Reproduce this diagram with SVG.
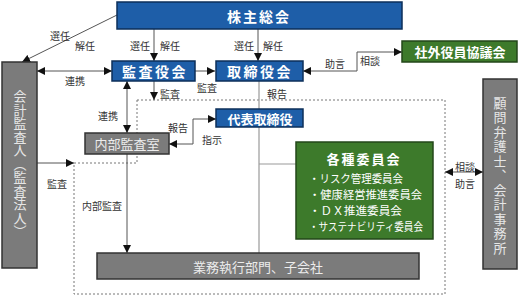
<svg xmlns="http://www.w3.org/2000/svg" width="519" height="295" viewBox="0 0 519 295">
<style>
text{font-family:"Noto Sans CJK JP","Noto Sans",sans-serif}
.blue{fill:#1e5ea8;stroke:#0c2f5a;stroke-width:1.5}
.green{fill:#3d7a2b;stroke:#23471a;stroke-width:1.5}
.gray{fill:#7b7b7b;stroke:#333;stroke-width:1.5}
.bt{fill:#fff;font-weight:bold;text-anchor:middle;dominant-baseline:central}
.gt{fill:#ececec;text-anchor:middle;dominant-baseline:central}
.lbl{fill:#333;font-size:10px;text-anchor:middle;dominant-baseline:central}
.ln{fill:none;stroke:#555;stroke-width:1}
.ln2{fill:none;stroke:#9a9a9a;stroke-width:1.2}
.dash{fill:none;stroke:#777;stroke-width:1;stroke-dasharray:2 2}
.li{fill:#fff;font-size:11px;dominant-baseline:central}
.vt{fill:#e6e6e6;font-size:13px;writing-mode:vertical-rl;text-anchor:middle}
</style>
<defs>
<marker id="ah" markerUnits="userSpaceOnUse" markerWidth="9" markerHeight="8" refX="8" refY="4" orient="auto-start-reverse">
<path d="M0,0 L8,4 L0,8 Z" fill="#111"/>
</marker>
</defs>
<g id="area">
<path class="dash" d="M137,100 H445 V294 H74 V163 H137 Z"/>
</g>
<g id="connectors">
<path class="ln" d="M117,15 L22,62" marker-end="url(#ah)"/>
<path class="ln" d="M154,29 V61" marker-end="url(#ah)"/>
<path class="ln" d="M258,29 V61" marker-end="url(#ah)"/>
<path class="ln" d="M37,71 H112" marker-start="url(#ah)" marker-end="url(#ah)"/>
<path class="ln" d="M195,71 H215" marker-end="url(#ah)"/>
<path class="ln" d="M154,81 V100" marker-end="url(#ah)"/>
<path class="ln" d="M127,81 V133" marker-start="url(#ah)" marker-end="url(#ah)"/>
<path class="ln" d="M303,71 H357 V52 H402" marker-start="url(#ah)" marker-end="url(#ah)"/>
<path class="ln2" d="M259,81 V109 M259,127 V253 M259,164 H296"/>
<path class="ln" d="M169,144 H193 V119 H216" marker-start="url(#ah)" marker-end="url(#ah)"/>
<path class="ln" d="M37,163 H74" marker-end="url(#ah)"/>
<path class="ln" d="M127,154 V253" marker-end="url(#ah)"/>
<path class="ln" d="M445,172 H483" marker-start="url(#ah)" marker-end="url(#ah)"/>
</g>
<g id="labels">
<text class="lbl" x="60" y="35">選任</text>
<text class="lbl" x="85" y="45">解任</text>
<text class="lbl" x="140" y="45">選任</text>
<text class="lbl" x="170" y="45">解任</text>
<text class="lbl" x="244" y="45">選任</text>
<text class="lbl" x="273" y="45">解任</text>
<text class="lbl" x="75" y="80">連携</text>
<text class="lbl" x="207" y="87">監査</text>
<text class="lbl" x="170" y="93">監査</text>
<text class="lbl" x="108" y="115">連携</text>
<text class="lbl" x="277" y="93">報告</text>
<text class="lbl" x="335" y="63">助言</text>
<text class="lbl" x="370" y="60">相談</text>
<text class="lbl" x="178" y="127">報告</text>
<text class="lbl" x="212" y="139">指示</text>
<text class="lbl" x="57" y="183">監査</text>
<text class="lbl" x="102" y="205">内部監査</text>
<text class="lbl" x="465" y="166">相談</text>
<text class="lbl" x="465" y="183">助言</text>
</g>
<g id="shareholders">
<rect class="blue" x="117" y="2" width="285" height="27"/>
<text class="bt" x="259" y="16" font-size="14" letter-spacing="2">株主総会</text>
</g>
<g id="auditboard">
<rect class="blue" x="112" y="61" width="83" height="20"/>
<text class="bt" x="155" y="71" font-size="14" letter-spacing="2.5">監査役会</text>
</g>
<g id="board">
<rect class="blue" x="216" y="61" width="87" height="20"/>
<text class="bt" x="260" y="71" font-size="14" letter-spacing="2.5">取締役会</text>
</g>
<g id="president">
<rect class="blue" x="216" y="109" width="87" height="18"/>
<text class="bt" x="260" y="118" font-size="13">代表取締役</text>
</g>
<g id="outside">
<rect class="green" x="402" y="41" width="115" height="21"/>
<text class="bt" x="460" y="51.5" font-size="13">社外役員協議会</text>
</g>
<g id="internalaudit">
<rect class="gray" x="85" y="133" width="84" height="21"/>
<text class="gt" x="127" y="143.5" font-size="13">内部監査室</text>
</g>
<g id="committees">
<rect class="green" x="296" y="142" width="137" height="97"/>
<text class="bt" x="364" y="158" font-size="13" letter-spacing="2">各種委員会</text>
<text class="li" x="309" y="178" textLength="94" lengthAdjust="spacingAndGlyphs">・リスク管理委員会</text>
<text class="li" x="309" y="194" textLength="113" lengthAdjust="spacingAndGlyphs">・健康経営推進委員会</text>
<text class="li" x="309" y="210" textLength="93" lengthAdjust="spacingAndGlyphs">・ＤＸ推進委員会</text>
<text class="li" x="309" y="226" textLength="114" lengthAdjust="spacingAndGlyphs">・サステナビリティ委員会</text>
</g>
<g id="business">
<rect class="gray" x="97" y="253" width="322" height="26"/>
<text class="gt" x="258" y="266" font-size="13">業務執行部門、子会社</text>
</g>
<g id="auditor">
<rect class="gray" x="2" y="62" width="35" height="206"/>
<text class="vt" x="20" y="164" letter-spacing="0.5">会計監査人（監査法人）</text>
</g>
<g id="advisors">
<rect class="gray" x="483" y="79" width="34" height="190"/>
<text class="vt" x="500" y="176" letter-spacing="1.5">顧問弁護士、会計事務所</text>
</g>
</svg>
